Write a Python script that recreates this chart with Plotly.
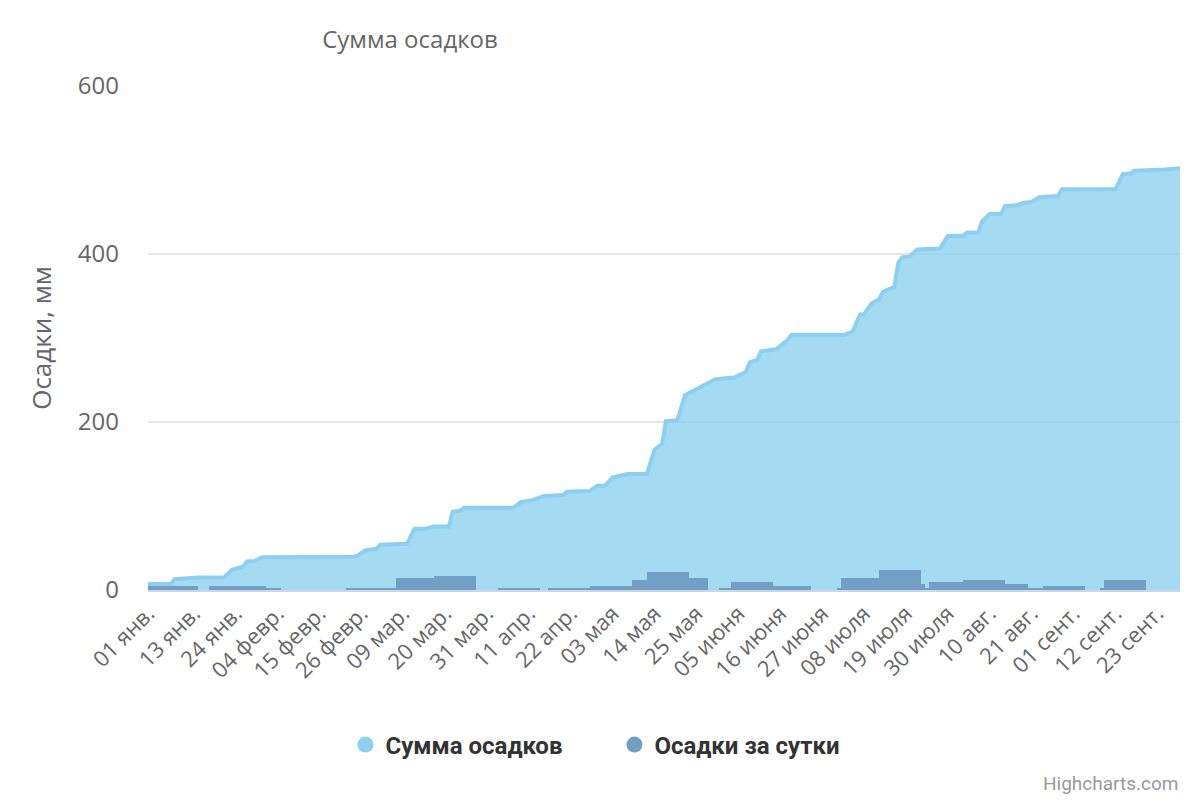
import pandas as pd
import plotly.graph_objects as go

# накопленная сумма осадков, мм (точки излома линии)
sum_dates = ["2021-01-01", "2021-01-07", "2021-01-08", "2021-01-13", "2021-01-14", "2021-01-21",
             "2021-01-23", "2021-01-25", "2021-01-26", "2021-01-27", "2021-01-29", "2021-01-31",
             "2021-02-24", "2021-02-25", "2021-02-27", "2021-03-02", "2021-03-03", "2021-03-10",
             "2021-03-12", "2021-03-15", "2021-03-17", "2021-03-21", "2021-03-22", "2021-03-24",
             "2021-03-25", "2021-04-07", "2021-04-09", "2021-04-12", "2021-04-15", "2021-04-20",
             "2021-04-21", "2021-04-27", "2021-04-29", "2021-05-01", "2021-05-03", "2021-05-07",
             "2021-05-12", "2021-05-14", "2021-05-16", "2021-05-17", "2021-05-20", "2021-05-22",
             "2021-05-25", "2021-05-28", "2021-05-30", "2021-06-04", "2021-06-06", "2021-06-07",
             "2021-06-08", "2021-06-10", "2021-06-11", "2021-06-15", "2021-06-18", "2021-06-19",
             "2021-07-03", "2021-07-05", "2021-07-07", "2021-07-08", "2021-07-10", "2021-07-12",
             "2021-07-13", "2021-07-16", "2021-07-17", "2021-07-18", "2021-07-20", "2021-07-22",
             "2021-07-28", "2021-07-30", "2021-08-03", "2021-08-04", "2021-08-07", "2021-08-08",
             "2021-08-10", "2021-08-13", "2021-08-14", "2021-08-17", "2021-08-19", "2021-08-21",
             "2021-08-23", "2021-08-26", "2021-08-28", "2021-08-29", "2021-09-12", "2021-09-14",
             "2021-09-16", "2021-09-17", "2021-09-20", "2021-09-22", "2021-09-25", "2021-09-29"]
sum_values = [7, 7, 13, 14, 15, 15,
              24, 26.5, 28, 34, 34.5, 39,
              39.7, 41, 47, 49, 54, 55,
              73, 73, 75.5, 75.5, 93, 94.5,
              98, 98, 105, 107, 112, 113,
              117, 118, 124, 124, 134, 138,
              138, 167, 174, 201, 202, 232,
              239, 245, 251, 253, 258, 259.5,
              271, 274, 284, 286.5, 298, 304,
              304, 307.5, 328, 328, 341, 346,
              355, 361, 389, 396, 397, 405.5,
              406.5, 421.5, 421.5, 425.5, 425.5, 438.5,
              447.5, 447.5, 457, 458, 461, 462,
              467.5, 469, 469, 477, 477, 495,
              496, 499, 499, 500, 500.5, 502]

# осадки за период (столбцы): начало, конец, мм
bar_start = ["2021-01-01", "2021-01-17", "2021-02-01", "2021-02-22", "2021-03-07", "2021-03-17",
             "2021-04-03", "2021-04-16", "2021-04-27", "2021-05-08", "2021-05-12", "2021-05-23",
             "2021-05-31", "2021-06-03", "2021-06-14", "2021-07-01", "2021-07-02", "2021-07-12",
             "2021-07-23", "2021-07-24", "2021-07-25", "2021-08-03", "2021-08-14", "2021-08-20",
             "2021-08-24", "2021-09-08", "2021-09-09"]
bar_end = ["2021-01-14", "2021-02-01", "2021-02-05", "2021-03-07", "2021-03-17", "2021-03-28",
           "2021-04-14", "2021-04-27", "2021-05-08", "2021-05-12", "2021-05-23", "2021-05-28",
           "2021-06-03", "2021-06-14", "2021-06-24", "2021-07-02", "2021-07-12", "2021-07-23",
           "2021-07-24", "2021-07-25", "2021-08-03", "2021-08-14", "2021-08-20", "2021-08-24",
           "2021-09-04", "2021-09-09", "2021-09-20"]
bar_values = [5, 5, 2, 2.5, 14, 16.5,
              2.5, 2.5, 5, 12, 21, 14,
              2.5, 9.5, 5, 2.5, 14, 24,
              7, 2.5, 9.5, 12, 7, 2.5,
              5, 2.5, 12]

tick_dates = ["2021-01-01", "2021-01-13", "2021-01-24", "2021-02-04", "2021-02-15", "2021-02-26",
              "2021-03-09", "2021-03-20", "2021-03-31", "2021-04-11", "2021-04-22", "2021-05-03",
              "2021-05-14", "2021-05-25", "2021-06-05", "2021-06-16", "2021-06-27", "2021-07-08",
              "2021-07-19", "2021-07-30", "2021-08-10", "2021-08-21", "2021-09-01", "2021-09-12",
              "2021-09-23"]
tick_labels = ["01 янв.", "13 янв.", "24 янв.", "04 февр.", "15 февр.", "26 февр.",
               "09 мар.", "20 мар.", "31 мар.", "11 апр.", "22 апр.", "03 мая",
               "14 мая", "25 мая", "05 июня", "16 июня", "27 июня", "08 июля",
               "19 июля", "30 июля", "10 авг.", "21 авг.", "01 сент.", "12 сент.",
               "23 сент."]

bs = pd.to_datetime(bar_start)
be = pd.to_datetime(bar_end)
bar_mid = bs + (be - bs) / 2
bar_w = (be - bs).total_seconds() * 1000

fig = go.Figure()
fig.add_trace(go.Scatter(x=sum_dates, y=sum_values, mode="lines", fill="tozeroy",
                         line=dict(color="#8ccff0", width=4),
                         fillcolor="rgba(140,207,240,0.78)", showlegend=False))
# столбцы на наложенной оси, чтобы они были поверх заливки
fig.add_trace(go.Bar(x=bar_mid, y=bar_values, width=bar_w, yaxis="y2",
                     marker=dict(color="#729fc4", line=dict(width=0)), showlegend=False))

# легенда с круглыми значками
fig.add_trace(go.Scatter(x=[None], y=[None], mode="markers", name="Сумма осадков",
                         marker=dict(color="#8ccff0", size=24)))
fig.add_trace(go.Scatter(x=[None], y=[None], mode="markers", name="Осадки за сутки",
                         marker=dict(color="#729fc4", size=24)))

fig.update_layout(
    width=1200, height=800,
    margin=dict(l=140, r=28, t=78, b=218),
    plot_bgcolor="white", paper_bgcolor="white",
    bargap=0,
    font=dict(family="Open Sans", color="#666666"),
    title=dict(text="Сумма осадков", x=402 / 1200, xanchor="center",
               y=1 - 32 / 800, yanchor="middle", font=dict(size=24, color="#666666")),
    legend=dict(orientation="h", x=0.452, xanchor="center", y=-0.3075, yanchor="middle",
                font=dict(family="Roboto", size=24, color="#333333", weight="bold"),
                itemsizing="trace", traceorder="normal", entrywidth=224),
    showlegend=True,
    yaxis2=dict(overlaying="y", range=[0, 600], visible=False),
)
fig.update_xaxes(type="date", range=["2021-01-01", "2021-09-29"],
                 tickvals=tick_dates, ticktext=tick_labels, tickangle=-45,
                 tickfont=dict(size=22, color="#666666"),
                 showgrid=False, showline=True, linecolor="#ccd6eb", linewidth=2,
                 ticks="", zeroline=False)
fig.update_yaxes(selector=dict(overlaying=None), range=[0, 600], tickvals=[0, 200, 400, 600],
                 tickfont=dict(size=24, color="#666666"), ticklabelstandoff=28,
                 showgrid=True, gridcolor="#e6e6e6", gridwidth=1.5, zeroline=False,
                 title=dict(text="Осадки, мм", font=dict(size=26, color="#666666"), standoff=18))

fig.add_annotation(text="Highcharts.com", xref="paper", yref="paper", x=1, y=-0.383,
                   xanchor="right", yanchor="middle", showarrow=False,
                   font=dict(family="Roboto", size=19, color="#999999"))

fig.write_html("out.html")
